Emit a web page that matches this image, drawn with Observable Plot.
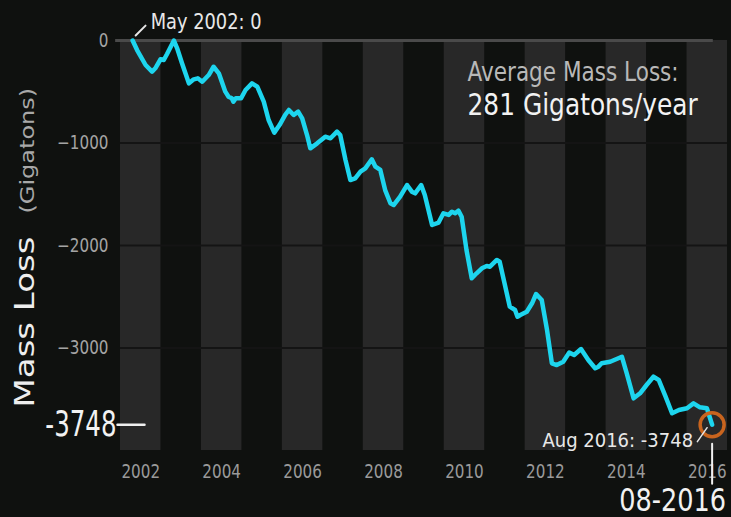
<!DOCTYPE html>
<html><head><meta charset="utf-8">
<script src="https://cdn.jsdelivr.net/npm/d3@7"></script>
<script src="https://cdn.jsdelivr.net/npm/@observablehq/plot@0.6"></script>
<style>html,body{margin:0;padding:0;background:#0f110f;overflow:hidden}</style>
</head><body><div id="chart"></div>
<script>
// ---- data (decimal years, gigatons) ----
const dates = [2002.30,2002.41,2002.62,2002.78,2002.86,2002.99,2003.07,2003.15,2003.32,2003.40,2003.52,2003.69,2003.81,2003.91,
  2004.02,2004.18,2004.30,2004.43,2004.59,2004.67,2004.75,2004.79,2004.85,2004.98,2005.09,2005.25,2005.38,2005.54,2005.66,2005.80,
  2005.93,2006.07,2006.16,2006.28,2006.39,2006.49,2006.61,2006.69,2006.86,2007.06,2007.19,2007.35,2007.43,2007.56,2007.68,2007.80,
  2007.93,2008.05,2008.21,2008.30,2008.42,2008.54,2008.67,2008.75,2008.91,2009.08,2009.20,2009.28,2009.43,2009.52,2009.70,2009.86,
  2009.98,2010.11,2010.19,2010.27,2010.35,2010.43,2010.55,2010.68,2010.80,2010.93,2011.05,2011.13,2011.30,2011.37,2011.49,2011.62,
  2011.75,2011.81,2011.88,2012.04,2012.17,2012.27,2012.41,2012.54,2012.66,2012.78,2012.94,2013.09,2013.21,2013.38,2013.56,2013.73,
  2013.81,2013.89,2014.10,2014.39,2014.51,2014.68,2014.84,2015.00,2015.17,2015.30,2015.47,2015.63,2015.80,2016.00,2016.16,2016.32,
  2016.49,2016.62];
const mass = [0,-93,-239,-304,-271,-183,-190,-132,0,-76,-222,-418,-379,-369,
  -402,-337,-256,-320,-499,-548,-564,-597,-564,-564,-483,-418,-451,-597,-776,-899,
  -825,-725,-678,-727,-694,-759,-922,-1052,-1003,-938,-954,-889,-922,-1166,-1361,-1345,
  -1280,-1247,-1159,-1231,-1263,-1459,-1588,-1605,-1524,-1410,-1475,-1491,-1410,-1507,-1800,-1776,
  -1686,-1702,-1670,-1686,-1660,-1719,-2044,-2320,-2271,-2222,-2200,-2207,-2141,-2158,-2369,-2597,
  -2629,-2695,-2678,-2646,-2564,-2473,-2532,-2824,-3149,-3166,-3134,-3045,-3068,-3010,-3117,-3198,
  -3182,-3149,-3134,-3085,-3247,-3491,-3442,-3361,-3280,-3312,-3475,-3637,-3605,-3588,-3540,-3579,
  -3588,-3748];
const bandYears = [2002,2004,2006,2008,2010,2012,2014,2016];
const tickYears = [2002,2004,2006,2008,2010,2012,2014,2016];
const yTicks = [0,-1000,-2000,-3000];
const gridValues = [-1000,-2000,-3000];
const firstLabel = "May 2002: 0";
const lastLabel = "Aug 2016: -3748";
const lastValueLabel = "-3748";
const dateLabel = "08-2016";
const avgTitle = "Average Mass Loss:";
const avgValue = "281 Gigatons/year";
const yTitle = "Mass Loss";
const yUnit = "(Gigatons)";

const series = dates.map((d, i) => ({date: d, value: mass[i]}));
const first = series[0], last = series[series.length - 1];
const lineShape = {draw(ctx, l) { ctx.moveTo(0, 0); ctx.lineTo(0, -l); }};
const fmtY = d => d === 0 ? "0" : "\u2212" + Math.abs(d);

const chart = Plot.plot({
  width: 731, height: 517,
  marginLeft: 120, marginRight: 4, marginTop: 40, marginBottom: 67,
  x: {domain: [2002, 2017]},
  y: {domain: [-4000, 0]},
  style: {background: "#0f110f", color: "#a0a0a0", fontFamily: "DejaVu Sans", fontSize: "19px", overflow: "visible"},
  marks: [
    Plot.rect(bandYears, {x1: d => d, x2: d => d + 1, y1: -4000, y2: 0, fill: "#282828"}),
    Plot.ruleY(gridValues, {stroke: "#141414", strokeWidth: 2}),
    Plot.ruleY([0], {x1: 2001.88, x2: last.date + 0.03, stroke: "#4a4a4a", strokeWidth: 3}),
    Plot.axisY({ticks: yTicks, tickFormat: fmtY, tickSize: 0, tickPadding: 12, label: null, fill: "#a4a4a4", fontSize: 19}),
    Plot.axisX({ticks: tickYears.map(d => d + 0.5), tickFormat: d => String(Math.floor(d)), tickSize: 0, tickPadding: 14, label: null, fill: "#9a9a9a", fontSize: 19}),
    Plot.line(series, {x: "date", y: "value", stroke: "#1dd5ee", strokeWidth: 4.5, strokeLinejoin: "round", strokeLinecap: "round"}),
    Plot.dot([last], {x: "date", y: "value", r: 12, stroke: "#c8641e", strokeWidth: 3.5, fill: "none"}),
    // leaders
    Plot.vector([first], {x: "date", y: "value", anchor: "start", rotate: 45, length: 14, dx: 3, dy: -5, shape: lineShape, stroke: "#e6e6e6", strokeWidth: 2}),
    Plot.vector([last], {x: "date", y: "value", anchor: "end", rotate: 35, length: 17, dx: -5, dy: 3, shape: lineShape, stroke: "#e6e6e6", strokeWidth: 1.5}),
    Plot.vector([last], {x: "date", y: "value", anchor: "start", rotate: 180, length: 40, dy: 19, shape: lineShape, stroke: "#f0f0f0", strokeWidth: 2}),
    Plot.vector([last], {y: "value", frameAnchor: "left", anchor: "start", rotate: 90, length: 27, dx: -3, shape: lineShape, stroke: "#f0f0f0", strokeWidth: 2.5}),
    // texts
    Plot.text([first], {x: "date", y: "value", text: () => firstLabel, textAnchor: "start", lineAnchor: "bottom", dx: 18, dy: -12, fontSize: 21, fill: "#e8e8e8"}),
    Plot.text([last], {x: "date", y: "value", text: () => lastLabel, textAnchor: "end", lineAnchor: "bottom", dx: -19, dy: 22, fontSize: 20, fill: "#e8e8e8"}),
    Plot.text([last], {y: "value", frameAnchor: "left", text: () => lastValueLabel, textAnchor: "end", lineAnchor: "middle", dx: -4, fontSize: 35, fill: "#f2f2f2"}),
    Plot.text([last], {x: "date", frameAnchor: "bottom", text: () => dateLabel, textAnchor: "end", lineAnchor: "bottom", dx: 14, dy: 60, fontSize: 32, fill: "#f2f2f2"}),
    Plot.text([avgTitle], {text: d => d, frameAnchor: "top-left", textAnchor: "start", lineAnchor: "bottom", dx: 347, dy: 40, fontSize: 26, fill: "#b8b8b8"}),
    Plot.text([avgValue], {text: d => d, frameAnchor: "top-left", textAnchor: "start", lineAnchor: "bottom", dx: 347, dy: 74, fontSize: 30, fill: "#f2f2f2"}),
    Plot.text([yTitle], {text: d => d, frameAnchor: "left", rotate: -90, textAnchor: "start", lineAnchor: "bottom", dx: -86.5, dy: 162, fontSize: 34, fill: "#eeeeee"}),
    Plot.text([yUnit], {text: d => d, frameAnchor: "left", rotate: -90, textAnchor: "start", lineAnchor: "bottom", dx: -86.5, dy: -32, fontSize: 24, fill: "#a8a8a8"})
  ]
});

// narrow the lettering like the reference (glyph widths only, anchors stay put)
const squeezeMap = new Map([
  [firstLabel, [0.85, 1]], [lastLabel, [0.9, 1]], [lastValueLabel, [0.7, 1]], [dateLabel, [0.8, 1]],
  [avgTitle, [0.83, 1]], [avgValue, [0.83, 1]], [yTitle, [1, 0.8]], [yUnit, [1, 0.8]]
]);
tickYears.forEach(y => squeezeMap.set(String(y), [0.8, 1]));
yTicks.forEach(v => squeezeMap.set(fmtY(v), [0.8, 1]));
chart.querySelectorAll("text").forEach(t => {
  const k = squeezeMap.get(t.textContent);
  if (!k) return;
  t.setAttribute("transform", (t.getAttribute("transform") || "") + ` scale(${k[0]},${k[1]})`);
});

document.getElementById("chart").appendChild(chart);
</script>
</body></html>
